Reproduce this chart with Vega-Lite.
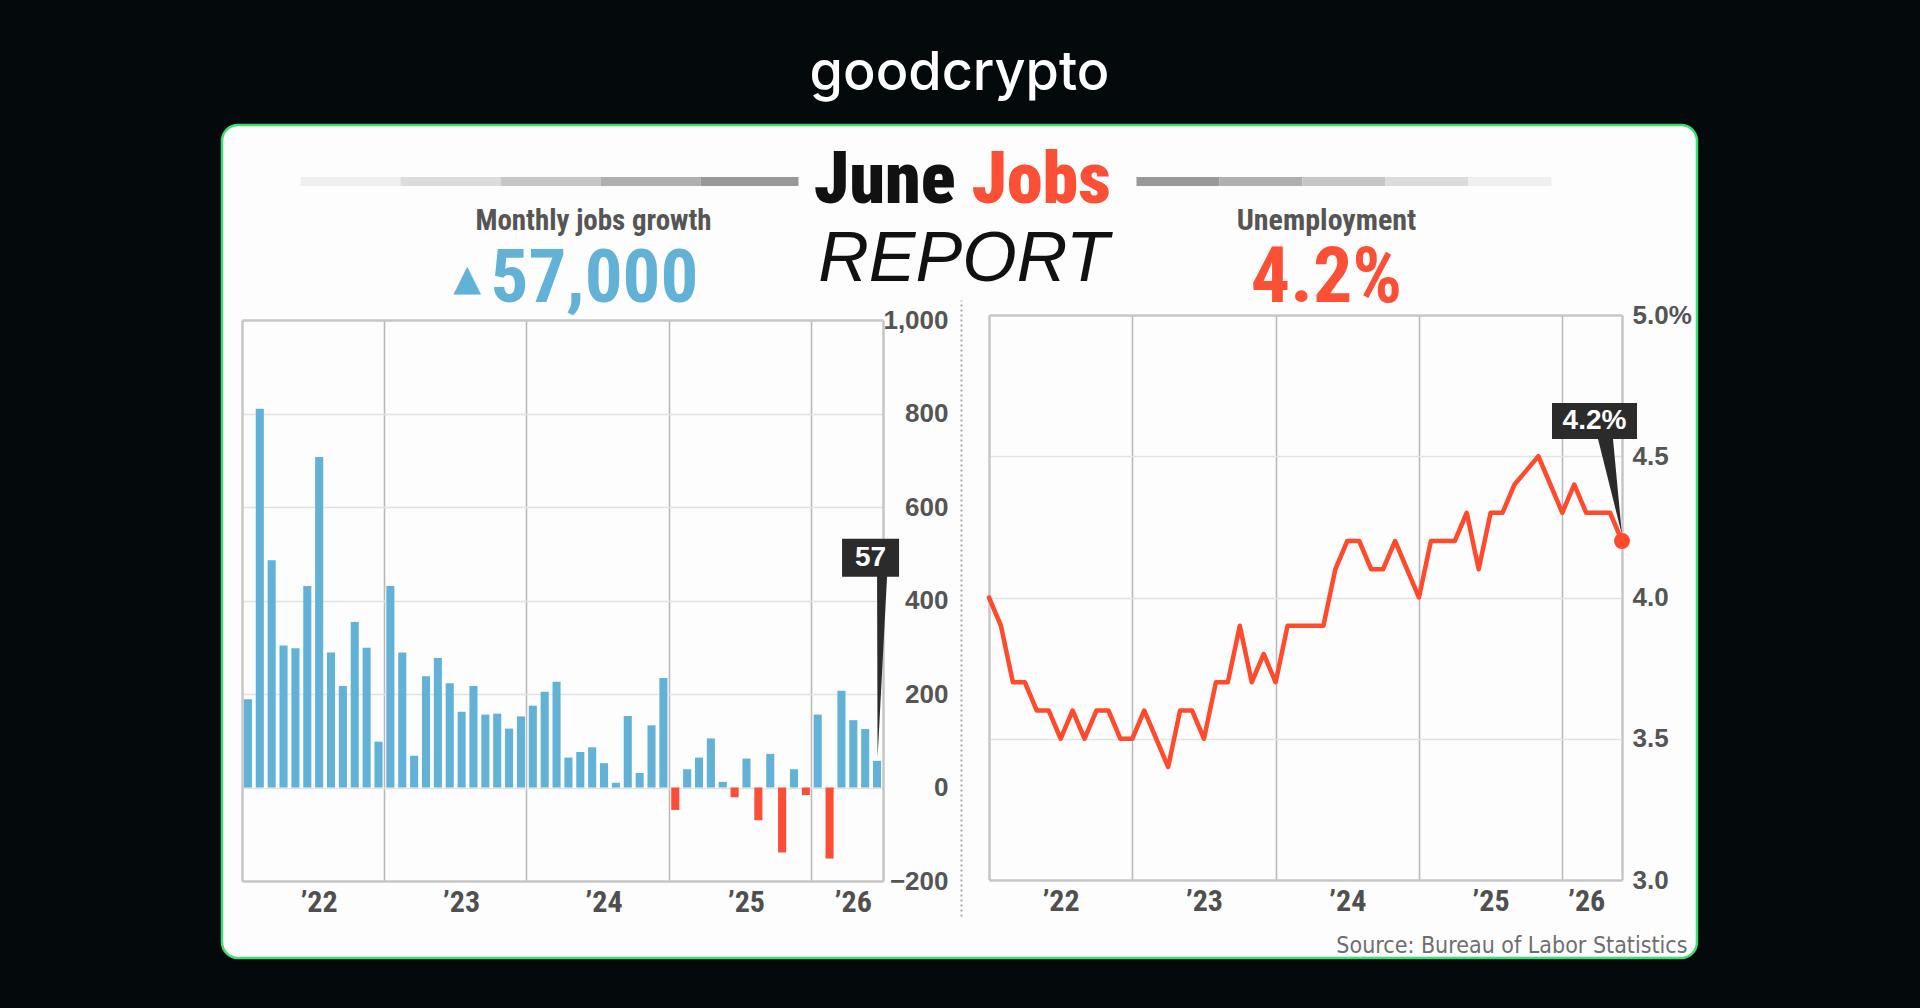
{
  "$schema": "https://vega.github.io/schema/vega-lite/v6.json",
  "width": 1475,
  "height": 833,
  "autosize": {"type": "none"},
  "padding": {"left": 222, "top": 125, "right": 223, "bottom": 50},
  "background": "#040a0b",
  "title": {
    "text": "goodcrypto",
    "color": "#ffffff",
    "font": "Inter, 'Open Sans', sans-serif",
    "fontSize": 54,
    "fontWeight": 500,
    "anchor": "middle",
    "frame": "group",
    "offset": 42,
    "dy": 61,
    "baseline": "alphabetic"
  },
  "config": {
    "view": {"fill": "#fdfdfd", "stroke": "#3be070", "strokeWidth": 2.5, "cornerRadius": 16},
    "axis": {"domain": false, "ticks": false, "labels": false, "grid": false, "labelOverlap": false, "labelFlush": false}
  },
  "datasets": {
    "jobs": [
      {"month": "2022-01", "jobs": 189}, {"month": "2022-02", "jobs": 810}, {"month": "2022-03", "jobs": 486},
      {"month": "2022-04", "jobs": 304}, {"month": "2022-05", "jobs": 298}, {"month": "2022-06", "jobs": 431},
      {"month": "2022-07", "jobs": 707}, {"month": "2022-08", "jobs": 289}, {"month": "2022-09", "jobs": 217},
      {"month": "2022-10", "jobs": 354}, {"month": "2022-11", "jobs": 299}, {"month": "2022-12", "jobs": 98},
      {"month": "2023-01", "jobs": 431}, {"month": "2023-02", "jobs": 289}, {"month": "2023-03", "jobs": 68},
      {"month": "2023-04", "jobs": 238}, {"month": "2023-05", "jobs": 277}, {"month": "2023-06", "jobs": 223},
      {"month": "2023-07", "jobs": 162}, {"month": "2023-08", "jobs": 217}, {"month": "2023-09", "jobs": 156},
      {"month": "2023-10", "jobs": 158}, {"month": "2023-11", "jobs": 126}, {"month": "2023-12", "jobs": 152},
      {"month": "2024-01", "jobs": 175}, {"month": "2024-02", "jobs": 205}, {"month": "2024-03", "jobs": 226},
      {"month": "2024-04", "jobs": 64}, {"month": "2024-05", "jobs": 76}, {"month": "2024-06", "jobs": 86},
      {"month": "2024-07", "jobs": 52}, {"month": "2024-08", "jobs": 10}, {"month": "2024-09", "jobs": 153},
      {"month": "2024-10", "jobs": 31}, {"month": "2024-11", "jobs": 133}, {"month": "2024-12", "jobs": 234},
      {"month": "2025-01", "jobs": -48}, {"month": "2025-02", "jobs": 39}, {"month": "2025-03", "jobs": 64},
      {"month": "2025-04", "jobs": 105}, {"month": "2025-05", "jobs": 12}, {"month": "2025-06", "jobs": -21},
      {"month": "2025-07", "jobs": 62}, {"month": "2025-08", "jobs": -70}, {"month": "2025-09", "jobs": 72},
      {"month": "2025-10", "jobs": -139}, {"month": "2025-11", "jobs": 39}, {"month": "2025-12", "jobs": -16},
      {"month": "2026-01", "jobs": 156}, {"month": "2026-02", "jobs": -152}, {"month": "2026-03", "jobs": 207},
      {"month": "2026-04", "jobs": 144}, {"month": "2026-05", "jobs": 125}, {"month": "2026-06", "jobs": 57}
    ],
    "rate": [
      {"month": "2022-01", "rate": 4.0}, {"month": "2022-02", "rate": 3.9}, {"month": "2022-03", "rate": 3.7},
      {"month": "2022-04", "rate": 3.7}, {"month": "2022-05", "rate": 3.6}, {"month": "2022-06", "rate": 3.6},
      {"month": "2022-07", "rate": 3.5}, {"month": "2022-08", "rate": 3.6}, {"month": "2022-09", "rate": 3.5},
      {"month": "2022-10", "rate": 3.6}, {"month": "2022-11", "rate": 3.6}, {"month": "2022-12", "rate": 3.5},
      {"month": "2023-01", "rate": 3.5}, {"month": "2023-02", "rate": 3.6}, {"month": "2023-03", "rate": 3.5},
      {"month": "2023-04", "rate": 3.4}, {"month": "2023-05", "rate": 3.6}, {"month": "2023-06", "rate": 3.6},
      {"month": "2023-07", "rate": 3.5}, {"month": "2023-08", "rate": 3.7}, {"month": "2023-09", "rate": 3.7},
      {"month": "2023-10", "rate": 3.9}, {"month": "2023-11", "rate": 3.7}, {"month": "2023-12", "rate": 3.8},
      {"month": "2024-01", "rate": 3.7}, {"month": "2024-02", "rate": 3.9}, {"month": "2024-03", "rate": 3.9},
      {"month": "2024-04", "rate": 3.9}, {"month": "2024-05", "rate": 3.9}, {"month": "2024-06", "rate": 4.1},
      {"month": "2024-07", "rate": 4.2}, {"month": "2024-08", "rate": 4.2}, {"month": "2024-09", "rate": 4.1},
      {"month": "2024-10", "rate": 4.1}, {"month": "2024-11", "rate": 4.2}, {"month": "2024-12", "rate": 4.1},
      {"month": "2025-01", "rate": 4.0}, {"month": "2025-02", "rate": 4.2}, {"month": "2025-03", "rate": 4.2},
      {"month": "2025-04", "rate": 4.2}, {"month": "2025-05", "rate": 4.3}, {"month": "2025-06", "rate": 4.1},
      {"month": "2025-07", "rate": 4.3}, {"month": "2025-08", "rate": 4.3}, {"month": "2025-09", "rate": 4.4},
      {"month": "2025-10", "rate": 4.45}, {"month": "2025-11", "rate": 4.5}, {"month": "2025-12", "rate": 4.4},
      {"month": "2026-01", "rate": 4.3}, {"month": "2026-02", "rate": 4.4}, {"month": "2026-03", "rate": 4.3},
      {"month": "2026-04", "rate": 4.3}, {"month": "2026-05", "rate": 4.3}, {"month": "2026-06", "rate": 4.2}
    ]
  },
  "layer": [
    {
      "data": {"values": []},
      "mark": "rule",
      "encoding": {
        "x": {
          "field": "u", "type": "quantitative",
          "scale": {"domain": [0, 1], "range": [78, 178]},
          "axis": {
            "orient": "top", "offset": -56, "domain": true, "domainColor": "#efefef", "domainWidth": 9,
            "title": "June", "titleX": 733, "titleY": 21, "titleAlign": "right", "titleBaseline": "alphabetic",
            "titleFont": "'Roboto Condensed', Roboto, sans-serif",
            "titleFontWeight": 900, "titleFontSize": 72, "titleColor": "#111111"
          }
        },
        "y": {
          "field": "v", "type": "quantitative",
          "scale": {"domain": [0, 1], "range": [791, 175]},
          "axis": {
            "orient": "left", "offset": -739, "domain": true, "domainColor": "#a8a8a8", "domainWidth": 2, "domainDash": [2, 3],
            "title": "REPORT", "titleX": 2, "titleY": 155, "titleAngle": 0, "titleAlign": "center", "titleBaseline": "alphabetic",
            "titleFont": "'Liberation Sans', Arial, sans-serif", "titleFontStyle": "italic", "titleFontWeight": "normal",
            "titleFontSize": 70, "titleColor": "#111111"
          }
        }
      }
    },
    {
      "data": {"values": []},
      "mark": "rule",
      "encoding": {
        "x": {
          "field": "u", "type": "quantitative",
          "scale": {"domain": [0, 1], "range": [178, 278]},
          "axis": {
            "orient": "top", "offset": -56, "domain": true, "domainColor": "#dcdcdc", "domainWidth": 9,
            "title": "Jobs", "titleX": 749, "titleY": 21, "titleAlign": "left", "titleBaseline": "alphabetic",
            "titleFont": "'Roboto Condensed', Roboto, sans-serif",
            "titleFontWeight": 900, "titleFontSize": 72, "titleColor": "#fb5036"
          }
        }
      }
    },
    {
      "data": {"values": []},
      "mark": "rule",
      "encoding": {
        "x": {
          "field": "u", "type": "quantitative",
          "scale": {"domain": [0, 1], "range": [278, 378]},
          "axis": {
            "orient": "top", "offset": -56, "domain": true, "domainColor": "#c6c6c6", "domainWidth": 9,
            "title": "Monthly jobs growth", "titleX": 371, "titleY": 48, "titleAlign": "center", "titleBaseline": "alphabetic",
            "titleFont": "'Roboto Condensed', Roboto, sans-serif",
            "titleFontWeight": "bold", "titleFontSize": 29, "titleColor": "#555555"
          }
        }
      }
    },
    {
      "data": {"values": []},
      "mark": "rule",
      "encoding": {
        "x": {
          "field": "u", "type": "quantitative",
          "scale": {"domain": [0, 1], "range": [378, 478]},
          "axis": {"orient": "top", "offset": -56, "domain": true, "domainColor": "#afafaf", "domainWidth": 9, "title": null}
        }
      }
    },
    {
      "data": {"values": []},
      "mark": "rule",
      "encoding": {
        "x": {
          "field": "u", "type": "quantitative",
          "scale": {"domain": [0, 1], "range": [478, 576]},
          "axis": {"orient": "top", "offset": -56, "domain": true, "domainColor": "#989898", "domainWidth": 9, "title": null}
        }
      }
    },
    {
      "data": {"values": []},
      "mark": "rule",
      "encoding": {
        "x": {
          "field": "u", "type": "quantitative",
          "scale": {"domain": [0, 1], "range": [914, 997]},
          "axis": {
            "orient": "top", "offset": -56, "domain": true, "domainColor": "#989898", "domainWidth": 9,
            "title": "Unemployment", "titleX": 1104, "titleY": 48, "titleAlign": "center", "titleBaseline": "alphabetic",
            "titleFont": "'Roboto Condensed', Roboto, sans-serif",
            "titleFontWeight": "bold", "titleFontSize": 30, "titleColor": "#555555"
          }
        }
      }
    },
    {
      "data": {"values": []},
      "mark": "rule",
      "encoding": {
        "x": {
          "field": "u", "type": "quantitative",
          "scale": {"domain": [0, 1], "range": [997, 1080]},
          "axis": {
            "orient": "top", "offset": -56, "domain": true, "domainColor": "#afafaf", "domainWidth": 9,
            "title": "4.2%", "titleX": 1104, "titleY": 120, "titleAlign": "center", "titleBaseline": "alphabetic",
            "titleFont": "'Roboto Condensed', Roboto, sans-serif",
            "titleFontWeight": "bold", "titleFontSize": 78, "titleColor": "#fb5036"
          }
        }
      }
    },
    {
      "data": {"values": []},
      "mark": "rule",
      "encoding": {
        "x": {
          "field": "u", "type": "quantitative",
          "scale": {"domain": [0, 1], "range": [1080, 1163]},
          "axis": {
            "orient": "top", "offset": -56, "domain": true, "domainColor": "#c6c6c6", "domainWidth": 9,
            "title": "57,000", "titleX": 268, "titleY": 120, "titleAlign": "left", "titleBaseline": "alphabetic",
            "titleFont": "'Roboto Condensed', Roboto, sans-serif",
            "titleFontWeight": "bold", "titleFontSize": 75, "titleColor": "#62b2d7"
          }
        }
      }
    },
    {
      "data": {"values": []},
      "mark": "rule",
      "encoding": {
        "x": {
          "field": "u", "type": "quantitative",
          "scale": {"domain": [0, 1], "range": [1163, 1246]},
          "axis": {"orient": "top", "offset": -56, "domain": true, "domainColor": "#dcdcdc", "domainWidth": 9, "title": null}
        }
      }
    },
    {
      "data": {"values": []},
      "mark": "rule",
      "encoding": {
        "x": {
          "field": "u", "type": "quantitative",
          "scale": {"domain": [0, 1], "range": [1246, 1329]},
          "axis": {"orient": "top", "offset": -56, "domain": true, "domainColor": "#efefef", "domainWidth": 9, "title": null}
        }
      }
    },
    {
      "data": {"name": "jobs"},
      "layer": [
        {
          "mark": {"type": "bar"},
          "encoding": {
            "x": {
              "field": "month", "type": "ordinal",
              "scale": {"type": "band", "range": [20, 661], "paddingInner": 0.32, "paddingOuter": 0.16},
              "axis": {
                "orient": "bottom", "offset": -77, "domain": true, "domainColor": "#c6c6c6", "domainWidth": 2.5,
                "labels": true, "values": ["2022-07", "2023-07", "2024-07", "2025-07", "2026-04"], "bandPosition": -0.235,
                "labelExpr": "'’' + slice(datum.value, 2, 4)", "labelAngle": 0,
                "labelFont": "'Roboto Condensed', Roboto, sans-serif",
                "labelFontWeight": "bold", "labelFontSize": 30, "labelColor": "#4f4f4f", "labelPadding": 6,
                "title": "Source: Bureau of Labor Statistics", "titleX": 1465, "titleY": 71, "titleAlign": "right", "titleBaseline": "alphabetic",
                "titleFont": "'Liberation Sans Narrow', 'Arial Narrow', 'DejaVu Sans Condensed', sans-serif",
                "titleFontWeight": "normal", "titleFontSize": 23, "titleColor": "#6e6e6e"
              }
            },
            "y": {
              "field": "jobs", "type": "quantitative",
              "scale": {"domain": [-200, 1000], "range": [756, 195], "nice": false, "zero": false},
              "axis": {
                "orient": "right", "offset": -814, "domain": true, "domainColor": "#c6c6c6", "domainWidth": 2.5,
                "labels": true, "values": [-200, 0, 200, 400, 600, 800, 1000], "format": ",.0f",
                "labelAlign": "right", "labelBaseline": "middle", "labelPadding": 65,
                "labelFont": "'Liberation Sans', Arial, sans-serif", "labelFontWeight": "bold", "labelFontSize": 26, "labelColor": "#555555",
                "title": "▲", "titleX": -416.5, "titleY": 164, "titleAngle": 0, "titleAlign": "center", "titleBaseline": "alphabetic",
                "titleFont": "'DejaVu Sans', sans-serif", "titleFontWeight": "normal", "titleFontSize": 36, "titleColor": "#62b2d7"
              }
            },
            "color": {"condition": {"test": "datum.jobs < 0", "value": "#fc4e36"}, "value": "#62b2d7"}
          }
        },
        {
          "transform": [{"filter": "datum.month === '2026-06'"}],
          "mark": {
            "type": "point", "shape": "M-3.5,-22.2H2.2V-18.4H1L0.05,-0.3L0,-18.4H-3.5Z",
            "size": 400, "filled": true, "opacity": 1, "color": "#2b2b2b", "strokeWidth": 0
          },
          "encoding": {
            "x": {
              "field": "month", "type": "ordinal",
              "scale": {"type": "band", "range": [20, 661], "paddingInner": 0.32, "paddingOuter": 0.16},
              "axis": {
                "orient": "top", "offset": -195, "domain": true, "domainColor": "#c6c6c6", "domainWidth": 2.5,
                "grid": true, "gridColor": "#b8b8b8", "gridWidth": 1.5,
                "values": ["2023-01", "2024-01", "2025-01", "2026-01"], "bandPosition": -0.235, "title": null
              }
            },
            "y": {
              "field": "jobs", "type": "quantitative",
              "scale": {"domain": [-200, 1000], "range": [756, 195], "nice": false, "zero": false},
              "axis": {
                "orient": "left", "offset": -20, "domain": true, "domainColor": "#c6c6c6", "domainWidth": 2.5,
                "grid": true, "gridColor": "#e3e3e3", "gridWidth": 1.5,
                "values": [0, 200, 400, 600, 800], "title": null
              }
            }
          }
        },
        {
          "transform": [{"filter": "datum.month === '2026-06'"}],
          "mark": {
            "type": "text", "dx": -6.5, "dy": -203, "align": "center", "baseline": "middle",
            "font": "'Liberation Sans', Arial, sans-serif", "fontWeight": "bold", "fontSize": 28, "color": "#ffffff"
          },
          "encoding": {
            "x": {
              "field": "month", "type": "ordinal",
              "scale": {"type": "band", "range": [20, 661], "paddingInner": 0.32, "paddingOuter": 0.16},
              "axis": null
            },
            "y": {
              "field": "jobs", "type": "quantitative",
              "scale": {"domain": [-200, 1000], "range": [756, 195], "nice": false, "zero": false},
              "axis": null
            },
            "text": {"field": "jobs", "type": "quantitative"}
          }
        }
      ],
      "resolve": {"axis": {"x": "independent", "y": "independent"}}
    },
    {
      "data": {"name": "rate"},
      "layer": [
        {
          "mark": {"type": "line", "color": "#ff4a2c", "strokeWidth": 4.5, "strokeJoin": "round", "strokeCap": "round"},
          "encoding": {
            "x": {
              "field": "month", "type": "ordinal",
              "scale": {"type": "point", "range": [767, 1400], "padding": 0},
              "axis": {
                "orient": "bottom", "offset": -78, "domain": true, "domainColor": "#c6c6c6", "domainWidth": 2.5,
                "labels": true, "values": ["2022-07", "2023-07", "2024-07", "2025-07", "2026-03"],
                "labelExpr": "'’' + slice(datum.value, 2, 4)", "labelAngle": 0,
                "labelFont": "'Roboto Condensed', Roboto, sans-serif",
                "labelFontWeight": "bold", "labelFontSize": 30, "labelColor": "#4f4f4f", "labelPadding": 6,
                "title": null
              }
            },
            "y": {
              "field": "rate", "type": "quantitative",
              "scale": {"domain": [3, 5], "range": [755, 190], "nice": false, "zero": false},
              "axis": {
                "orient": "right", "offset": -75, "domain": true, "domainColor": "#c6c6c6", "domainWidth": 2.5,
                "labels": true, "values": [3, 3.5, 4, 4.5, 5],
                "labelExpr": "datum.value === 5 ? '5.0%' : format(datum.value, '.1f')",
                "labelAlign": "left", "labelBaseline": "middle", "labelPadding": 10,
                "labelFont": "'Liberation Sans', Arial, sans-serif", "labelFontWeight": "bold", "labelFontSize": 26, "labelColor": "#555555",
                "title": null
              }
            }
          }
        },
        {
          "transform": [{"filter": "datum.month === '2026-06'"}],
          "mark": {
            "type": "point", "shape": "M-7,-13.8H1.5V-10.2H-0.9L0,-0.6L-2.4,-10.2H-7Z",
            "size": 400, "filled": true, "opacity": 1, "color": "#2b2b2b", "strokeWidth": 0
          },
          "encoding": {
            "x": {
              "field": "month", "type": "ordinal",
              "scale": {"type": "point", "range": [767, 1400], "padding": 0},
              "axis": {
                "orient": "top", "offset": -190, "domain": true, "domainColor": "#c6c6c6", "domainWidth": 2.5,
                "grid": true, "gridColor": "#b8b8b8", "gridWidth": 1.5,
                "values": ["2023-01", "2024-01", "2025-01", "2026-01"], "title": null
              }
            },
            "y": {
              "field": "rate", "type": "quantitative",
              "scale": {"domain": [3, 5], "range": [755, 190], "nice": false, "zero": false},
              "axis": {
                "orient": "left", "offset": -767, "domain": true, "domainColor": "#c6c6c6", "domainWidth": 2.5,
                "grid": true, "gridColor": "#e3e3e3", "gridWidth": 1.5,
                "values": [3.5, 4, 4.5], "title": null
              }
            }
          }
        },
        {
          "transform": [
            {"filter": "datum.month === '2026-06'"},
            {"calculate": "format(datum.rate, '.1f') + '%'", "as": "label"}
          ],
          "mark": {
            "type": "text", "dx": -27.5, "dy": -120, "align": "center", "baseline": "middle",
            "font": "'Liberation Sans', Arial, sans-serif", "fontWeight": "bold", "fontSize": 28, "color": "#ffffff"
          },
          "encoding": {
            "x": {
              "field": "month", "type": "ordinal",
              "scale": {"type": "point", "range": [767, 1400], "padding": 0},
              "axis": null
            },
            "y": {
              "field": "rate", "type": "quantitative",
              "scale": {"domain": [3, 5], "range": [755, 190], "nice": false, "zero": false},
              "axis": null
            },
            "text": {"field": "label", "type": "nominal"}
          }
        },
        {
          "transform": [{"filter": "datum.month === '2026-06'"}],
          "mark": {"type": "point", "shape": "circle", "size": 254, "filled": true, "opacity": 1, "color": "#ff4a2c"},
          "encoding": {
            "x": {
              "field": "month", "type": "ordinal",
              "scale": {"type": "point", "range": [767, 1400], "padding": 0},
              "axis": null
            },
            "y": {
              "field": "rate", "type": "quantitative",
              "scale": {"domain": [3, 5], "range": [755, 190], "nice": false, "zero": false},
              "axis": null
            }
          }
        }
      ],
      "resolve": {"axis": {"x": "independent", "y": "independent"}}
    }
  ],
  "resolve": {
    "scale": {"x": "independent", "y": "independent"},
    "axis": {"x": "independent", "y": "independent"}
  }
}
